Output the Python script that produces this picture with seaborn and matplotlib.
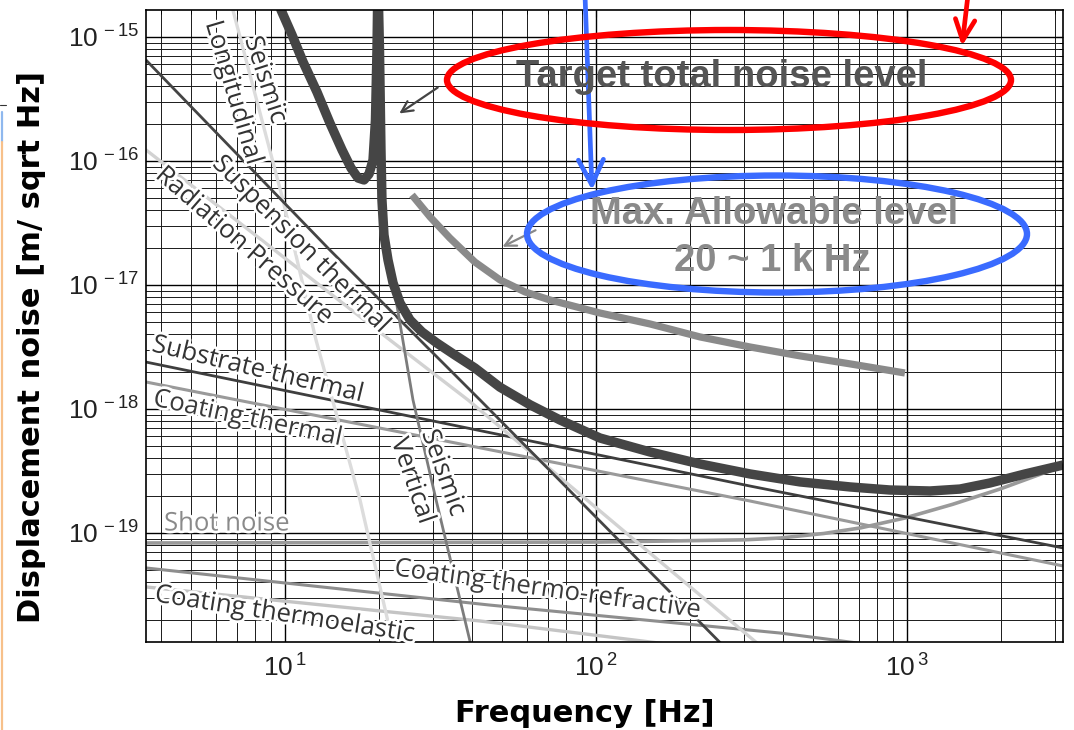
import numpy as np
import pandas as pd
import matplotlib
matplotlib.use("Agg")
import matplotlib.pyplot as plt
import matplotlib.patheffects as pe
from matplotlib.patches import Ellipse
from matplotlib.lines import Line2D
from matplotlib.ticker import LogLocator, FuncFormatter, NullFormatter
import seaborn as sns

# --- noise curves (frequency in Hz, displacement in m/sqrt(Hz)) ---
total_f = [9.36, 9.71, 10.53, 11.43, 12.67, 13.95, 15.25, 16.30, 17.17, 17.95, 18.63, 19.19,
           19.54, 19.76, 19.90, 20.13, 20.35, 20.50, 20.81, 21.44, 22.25, 23.43, 25.23, 27.57,
           30.8, 35.2, 40.8, 49.1, 61.4, 76.6, 103, 149.1, 216, 313, 453, 656, 882, 1186,
           1481, 1849, 2395, 3175]
total_v = [2.39e-15, 1.65e-15, 1.04e-15, 6.29e-16, 3.60e-16, 2.02e-16, 1.23e-16, 8.78e-17,
           7.29e-17, 7.03e-17, 7.85e-17, 1.02e-16, 2.14e-16, 7.85e-16, 2.89e-15, 7.85e-16,
           1.23e-16, 4.85e-17, 2.53e-17, 1.59e-17, 1.04e-17, 7.16e-18, 5.22e-18, 4.18e-18,
           3.40e-18, 2.72e-18, 2.14e-18, 1.50e-18, 1.08e-18, 8.15e-19, 5.83e-19, 4.50e-19,
           3.60e-19, 2.99e-19, 2.58e-19, 2.35e-19, 2.22e-19, 2.18e-19, 2.26e-19, 2.53e-19,
           2.99e-19, 3.53e-19]

allow_f = [25.6, 29.3, 33.9, 40.8, 49.1, 59.1, 71.1, 103, 149.1, 216, 313, 453, 656, 985]
allow_v = [5.32e-17, 3.53e-17, 2.39e-17, 1.53e-17, 1.10e-17, 8.79e-18, 7.57e-18, 5.94e-18,
           4.85e-18, 3.81e-18, 3.16e-18, 2.68e-18, 2.31e-18, 1.95e-18]

susp_f = [3.57, 13.95, 42.4, 255]
susp_v = [6.53e-16, 1.91e-17, 1.18e-18, 1.25e-20]

rad_f = [3.57, 21.75, 38.8, 335]
rad_v = [1.23e-16, 3.6e-18, 1.18e-18, 1.25e-20]

seis_long_f = [6.41, 6.80, 9.85, 12.58, 17.42, 22.3]
seis_long_v = [2.6e-15, 1.65e-15, 4.84e-17, 3.6e-18, 1.85e-19, 1.25e-20]

seis_vert_f = [21.75, 22.75, 25.8, 30.6, 39.6]
seis_vert_v = [1.45e-17, 7.57e-18, 1.18e-18, 1.85e-19, 1.25e-20]

shot_f = [3.57, 103, 300, 390, 540, 711, 985, 1400, 1990, 3175]
shot_v = [8.3e-20, 8.45e-20, 8.8e-20, 9.1e-20, 9.9e-20, 1.10e-19, 1.32e-19, 1.70e-19, 2.26e-19, 3.47e-19]

subs_f = [3.57, 312.8, 3175]
subs_v = [2.39e-18, 2.39e-19, 7.57e-20]

coat_f = [3.57, 312.8, 3175]
coat_v = [1.65e-18, 1.81e-19, 5.42e-20]

ctr_f = [3.57, 45.6, 390, 720]
ctr_v = [5.22e-20, 2.62e-20, 1.56e-20, 1.28e-20]

cte_f = [3.57, 20.2, 42.4, 165]
cte_v = [3.67e-20, 2.35e-20, 1.95e-20, 1.28e-20]

y_ticks = [1e-19, 1e-18, 1e-17, 1e-16, 1e-15]
x_ticks = [10, 100, 1000]

sns.set_style("white")
plt.rcParams["font.family"] = ["Liberation Sans", "DejaVu Sans"]
plt.rcParams["mathtext.fontset"] = "custom"
plt.rcParams["mathtext.rm"] = "Liberation Sans"
plt.rcParams["mathtext.it"] = "Liberation Sans:italic"
plt.rcParams["mathtext.bf"] = "Liberation Sans:bold"
plt.rcParams["mathtext.default"] = "regular"

W, H = 1074, 730
fig = plt.figure(figsize=(W / 100, H / 100), dpi=100)
L, R, T, B = 146, 1063, 10, 642
ax = fig.add_axes([L / W, 1 - B / H, (R - L) / W, (B - T) / H])
ax.set_xscale("log")
ax.set_yscale("log")


def axpos(px, py):
    return (px - L) / (R - L), (B - py) / (B - T)


curves = [
    (cte_f, cte_v, "#c4c4c4", 2.4),
    (ctr_f, ctr_v, "#8e8e8e", 2.2),
    (shot_f, shot_v, "#9a9a9a", 2.6),
    (coat_f, coat_v, "#9a9a9a", 2.2),
    (subs_f, subs_v, "#3e3e3e", 2.0),
    (rad_f, rad_v, "#d2d2d2", 2.4),
    (seis_long_f, seis_long_v, "#dcdcdc", 2.4),
    (susp_f, susp_v, "#444444", 2.0),
    (seis_vert_f, seis_vert_v, "#7c7c7c", 2.0),
    (allow_f, allow_v, "#8a8a8a", 5.2),
    (total_f, total_v, "#454545", 6.8),
]
for fx, fy, col, lw in curves:
    sns.lineplot(x=fx, y=fy, ax=ax, color=col, linewidth=lw, sort=False,
                 estimator=None, solid_joinstyle="round", solid_capstyle="butt")

ax.set_xlim(3.573, 3175)
ax.set_ylim(1.32e-20, 1.65e-15)

ax.xaxis.set_minor_locator(LogLocator(base=10, subs=np.arange(2, 10), numticks=50))
ax.yaxis.set_minor_locator(LogLocator(base=10, subs=np.arange(2, 10), numticks=50))
ax.set_xticks(x_ticks)
ax.set_yticks(y_ticks)
fmt = FuncFormatter(lambda v, pos: r"$10^{\,%d}$" % int(round(np.log10(v))))
ax.xaxis.set_major_formatter(fmt)
ax.yaxis.set_major_formatter(fmt)
ax.xaxis.set_minor_formatter(NullFormatter())
ax.yaxis.set_minor_formatter(NullFormatter())
ax.tick_params(which="both", direction="in", top=True, right=True, color="black")
ax.tick_params(which="major", length=5, labelsize=19, labelcolor="#222222")
ax.tick_params(axis="x", which="major", pad=9)
ax.tick_params(axis="y", which="major", pad=5)
ax.tick_params(which="minor", length=3)

ax.set_axisbelow(True)
ax.grid(True, which="major", color="black", linewidth=1.0)
ax.grid(True, which="minor", color="#1a1a1a", linewidth=0.7)
for s in ax.spines.values():
    s.set_color("black")
    s.set_linewidth(1.2)

# curve labels
halo = [pe.withStroke(linewidth=4, foreground="white")]
labels = [
    ("Seismic", 265, 80, -72, "#333333"),
    ("Longitudinal", 233, 93, -73.5, "#333333"),
    ("Suspension thermal", 301, 245, -45, "#333333"),
    ("Radiation Pressure", 244, 246, -41, "#333333"),
    ("Substrate thermal", 258, 370, -13.5, "#333333"),
    ("Coating thermal", 248, 419, -12, "#3a3a3a"),
    ("Shot noise", 227, 524, 0, "#8a8a8a"),
    ("Seismic", 443, 473, -70.5, "#333333"),
    ("Vertical", 412, 481, -71, "#333333"),
    ("Coating thermo-refractive", 548, 590, -7.9, "#3a3a3a"),
    ("Coating thermoelastic", 285, 615, -8.8, "#333333"),
]
for txt, px, py, rot, col in labels:
    x, y = axpos(px, py)
    ax.text(x, y, txt, transform=ax.transAxes, rotation=rot, rotation_mode="anchor",
            ha="center", va="center", fontsize=18.5, family="Open Sans", color=col,
            path_effects=halo, zorder=5)

# annotations
x, y = axpos(722, 77)
ax.text(x, y, "Target total noise level", transform=ax.transAxes, ha="center", va="center",
        fontsize=27.5, fontweight="bold", color="#555555", zorder=6)
x, y = axpos(774, 214)
ax.text(x, y, "Max. Allowable level", transform=ax.transAxes, ha="center", va="center",
        fontsize=27.5, fontweight="bold", color="#8a8a8a", zorder=6)
x, y = axpos(772, 261)
ax.text(x, y, "20 ~ 1 k Hz", transform=ax.transAxes, ha="center", va="center",
        fontsize=27.5, fontweight="bold", color="#8a8a8a", zorder=6)

ax.annotate("", xy=(397, H - 115), xycoords="figure pixels", xytext=(440, H - 86),
            textcoords="figure pixels",
            arrowprops=dict(arrowstyle="->,head_length=0.8,head_width=0.4", color="#444444", lw=1.6))
ax.annotate("", xy=(500, H - 248), xycoords="figure pixels", xytext=(538, H - 229),
            textcoords="figure pixels",
            arrowprops=dict(arrowstyle="->,head_length=0.8,head_width=0.4", color="#888888", lw=1.6))

ax.add_patch(Ellipse(axpos(729, 80), 564 / (R - L), 100 / (B - T), transform=ax.transAxes,
                     fill=False, ec="#ff0000", lw=4.6, zorder=7, clip_on=False))
ax.add_patch(Ellipse(axpos(777, 234), 500 / (R - L), 117 / (B - T), transform=ax.transAxes,
                     fill=False, ec="#3a6bff", lw=4.6, zorder=7, clip_on=False))

ax.annotate("", xy=(592, H - 190), xycoords="figure pixels", xytext=(585, H + 5),
            textcoords="figure pixels", annotation_clip=False,
            arrowprops=dict(arrowstyle="->,head_length=1.8,head_width=0.9", color="#3a6bff",
                            lw=3.4, shrinkA=0, shrinkB=0))
ax.annotate("", xy=(962, H - 46), xycoords="figure pixels", xytext=(968, H + 5),
            textcoords="figure pixels", annotation_clip=False,
            arrowprops=dict(arrowstyle="->,head_length=1.5,head_width=0.7", color="#ff0000",
                            lw=3.4, shrinkA=0, shrinkB=0))

# axis labels
fig.text(32 / W, 1 - 347 / H, "Displacement noise [m/ sqrt Hz]", rotation=90, ha="center",
         va="center", fontsize=22, fontweight="bold", family="DejaVu Sans", color="black")
fig.text(585 / W, 1 - 713 / H, "Frequency [Hz]", ha="center", va="center",
         fontsize=22, fontweight="bold", family="DejaVu Sans", color="black")

# slide frame remnants on the left edge
fig.add_artist(Line2D([1.5 / W, 1.5 / W], [1 - 112 / H, 1 - 142 / H], transform=fig.transFigure,
                      color="#8fb8ee", lw=1.6))
fig.add_artist(Line2D([1.5 / W, 1.5 / W], [1 - 142 / H, 0], transform=fig.transFigure,
                      color="#f7c08a", lw=1.6))
fig.add_artist(Line2D([0, 6 / W], [1 - 105 / H, 1 - 105 / H], transform=fig.transFigure,
                      color="#333333", lw=0.8))

fig.savefig("out.png", dpi=100, facecolor="white")
